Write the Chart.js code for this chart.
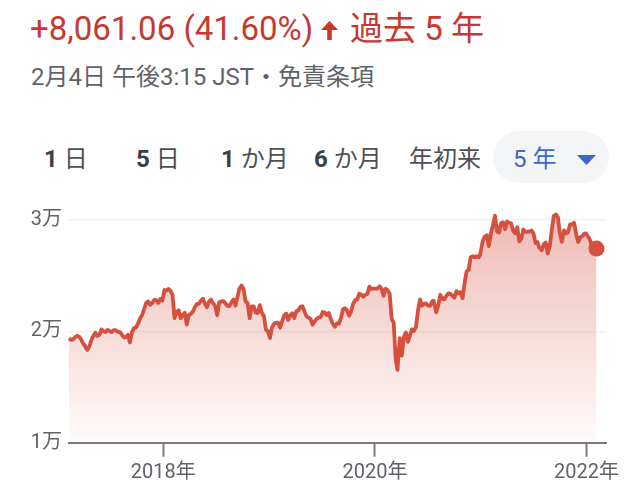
<!DOCTYPE html>
<html><head><meta charset="utf-8">
<script src="https://cdn.jsdelivr.net/npm/chart.js@4.4.1/dist/chart.umd.min.js"></script>
<style>
html,body{margin:0;padding:0;background:#fff;width:639px;height:486px;overflow:hidden;}
body{position:relative;font-family:Roboto,"Noto Sans CJK JP",sans-serif;}
.t{position:absolute;white-space:nowrap;line-height:1;}
.tab{position:absolute;white-space:nowrap;line-height:1;font-size:24px;color:#4d5156;top:147px;}
.tab b{font-weight:700;color:#3c4043;}
#chartWrap{position:absolute;left:0;top:0;width:639px;height:486px;}
</style></head><body>
<div class="t" style="left:30px;top:12px;font-size:33px;color:#c5392f;">+8,061.06 (41.60%)</div>
<svg style="position:absolute;left:321px;top:21px" width="17" height="19"><polygon points="0,9 8.5,0 17,9 10.8,9 10.8,19 6.2,19 6.2,9" fill="#c5392f"/></svg>
<div class="t" style="left:350px;top:12px;font-size:33px;color:#c5392f;">過去 5 年</div>
<div class="t" style="left:31px;top:65px;font-size:24px;color:#5f6368;">2月4日 午後3:15 JST・免責条項</div>
<div style="position:absolute;left:493px;top:131px;width:116px;height:52px;border-radius:26px;background:#f4f5f7"></div>
<div class="tab" style="left:44px"><b>1</b> 日</div>
<div class="tab" style="left:136px"><b>5</b> 日</div>
<div class="tab" style="left:221px"><b>1</b> か月</div>
<div class="tab" style="left:314px"><b>6</b> か月</div>
<div class="tab" style="left:409px">年初来</div>
<div class="tab" style="left:513px;color:#3b68cc">5 年</div>
<svg style="position:absolute;left:577px;top:155px" width="19" height="10"><polygon points="0,0 19,0 9.5,10" fill="#3b68cc"/></svg>
<div id="chartWrap"><canvas id="c" width="639" height="486"></canvas></div>
<script>
const weekDates = [
'2017-02-10','2017-02-17','2017-02-24','2017-03-03','2017-03-10','2017-03-17','2017-03-24','2017-03-31','2017-04-07','2017-04-14','2017-04-21','2017-04-28','2017-05-02','2017-05-12','2017-05-19','2017-05-26','2017-06-02','2017-06-09','2017-06-16','2017-06-23','2017-06-30','2017-07-07','2017-07-14','2017-07-21','2017-07-28','2017-08-04','2017-08-11','2017-08-18','2017-08-25','2017-09-01','2017-09-08','2017-09-15','2017-09-22','2017-09-29','2017-10-06','2017-10-13','2017-10-20','2017-10-27','2017-11-03','2017-11-10','2017-11-17','2017-11-24','2017-12-01','2017-12-08','2017-12-15','2017-12-22','2017-12-29',
'2018-01-05','2018-01-12','2018-01-19','2018-01-26','2018-02-02','2018-02-09','2018-02-16','2018-02-23','2018-03-02','2018-03-09','2018-03-16','2018-03-23','2018-03-30','2018-04-06','2018-04-13','2018-04-20','2018-04-27','2018-05-04','2018-05-11','2018-05-18','2018-05-25','2018-06-01','2018-06-08','2018-06-15','2018-06-22','2018-06-29','2018-07-06','2018-07-13','2018-07-20','2018-07-27','2018-08-03','2018-08-10','2018-08-17','2018-08-24','2018-08-31','2018-09-07','2018-09-14','2018-09-21','2018-09-28','2018-10-05','2018-10-12','2018-10-19','2018-10-26','2018-11-02','2018-11-09','2018-11-16','2018-11-23','2018-11-30','2018-12-07','2018-12-14','2018-12-21','2018-12-28',
'2019-01-04','2019-01-11','2019-01-18','2019-01-25','2019-02-01','2019-02-08','2019-02-15','2019-02-22','2019-03-01','2019-03-08','2019-03-15','2019-03-22','2019-03-29','2019-04-05','2019-04-12','2019-04-19','2019-04-26','2019-05-10','2019-05-17','2019-05-24','2019-05-31','2019-06-07','2019-06-14','2019-06-21','2019-06-28','2019-07-05','2019-07-12','2019-07-19','2019-07-26','2019-08-02','2019-08-09','2019-08-16','2019-08-23','2019-08-30','2019-09-06','2019-09-13','2019-09-20','2019-09-27','2019-10-04','2019-10-11','2019-10-18','2019-10-25','2019-11-01','2019-11-08','2019-11-15','2019-11-22','2019-11-29','2019-12-06','2019-12-13','2019-12-20','2019-12-27',
'2020-01-10','2020-01-17','2020-01-24','2020-01-31','2020-02-07','2020-02-14','2020-02-21','2020-02-28','2020-03-06','2020-03-13','2020-03-19','2020-03-27','2020-04-03','2020-04-10','2020-04-17','2020-04-24','2020-05-01','2020-05-08','2020-05-15','2020-05-22','2020-05-29','2020-06-05','2020-06-12','2020-06-19','2020-06-26','2020-07-03','2020-07-10','2020-07-17','2020-07-22','2020-07-31','2020-08-07','2020-08-14','2020-08-21','2020-08-28','2020-09-04','2020-09-11','2020-09-18','2020-09-25','2020-10-02','2020-10-09','2020-10-16','2020-10-23','2020-10-30','2020-11-06','2020-11-13','2020-11-20','2020-11-27','2020-12-04','2020-12-11','2020-12-18','2020-12-25','2020-12-30',
'2021-01-08','2021-01-15','2021-01-22','2021-01-29','2021-02-05','2021-02-12','2021-02-19','2021-02-26','2021-03-05','2021-03-12','2021-03-19','2021-03-26','2021-04-02','2021-04-09','2021-04-16','2021-04-23','2021-04-30','2021-05-07','2021-05-14','2021-05-21','2021-05-28','2021-06-04','2021-06-11','2021-06-18','2021-06-25','2021-07-02','2021-07-09','2021-07-16','2021-07-21','2021-07-30','2021-08-06','2021-08-13','2021-08-20','2021-08-27','2021-09-03','2021-09-10','2021-09-17','2021-09-24','2021-10-01','2021-10-08','2021-10-15','2021-10-22','2021-10-29','2021-11-05','2021-11-12','2021-11-19','2021-11-26','2021-12-03','2021-12-10','2021-12-17','2021-12-24','2021-12-30',
'2022-01-07','2022-01-14','2022-01-21','2022-01-28','2022-02-04'
];
const closeValues = [
19378,19235,19283,19469,19604,19521,19262,18909,18664,18335,18620,19196,19445,19883,19590,19686,20177,20013,19943,20132,20033,19929,20118,20099,19959,19952,19729,19470,19452,19691,19000,19909,20296,20356,20690,21155,21457,22008,22539,22681,22397,22550,22819,22811,22553,22902,22764,
23714,23653,23808,23631,23274,21200,21720,21892,21181,21469,21676,20617,21454,21567,21778,22162,22467,22472,22758,22930,22450,22171,22694,22851,22516,22304,21450,22597,22697,22712,22525,22298,22270,22601,22865,22307,23094,23869,24120,23784,22694,22532,21184,22243,22250,21680,21646,22351,21679,21374,20166,20015,
19400,20359,20666,20774,20788,20333,20900,21425,21602,21025,21450,21627,21205,21807,21870,22200,22258,21344,21250,21117,20601,20884,21116,21258,21275,21746,21685,21466,21658,21087,20684,20418,20710,20704,21199,21988,22079,21878,21410,21798,22492,22799,22850,23391,23303,23112,23293,23354,24023,23816,23837,
23850,24041,23827,23205,23827,23687,23386,21142,20749,17431,16552,19389,17820,19498,19897,19050,19619,20179,20037,20388,21877,22863,22305,22478,22512,22306,22290,22696,22751,21710,22329,23289,22920,22882,23205,23406,23360,23205,23029,23619,23410,23516,22977,24325,25385,25527,26644,26751,26652,26763,26656,26900,
28139,28519,28631,27663,28779,29520,30400,28966,28864,29717,29792,29176,29854,29768,29683,29020,28812,29357,28084,28317,29149,28941,28948,28964,29066,28783,27940,28003,27548,27283,27820,27977,27013,27641,29128,30381,30500,30249,28771,28048,29068,28804,28893,29611,29610,29745,28752,28029,28437,28546,28782,28791,
28479,28124,27522,27200,27440
];
const yTickValues = [10000, 20000, 30000];
const yTickLabels = ['1万', '2万', '3万'];
const xTickYears = [2018, 2020, 2022];
const xAxisEnd = 2022.19;
const yAxisMin = 10000;
const yAxisMax = 31000;

function toYear(s) {
  const d = new Date(s + 'T00:00:00Z');
  const y = d.getUTCFullYear();
  const a = Date.UTC(y, 0, 1), b = Date.UTC(y + 1, 0, 1);
  return y + (d.getTime() - a) / (b - a);
}
const points = weekDates.map((d, i) => ({ x: toYear(d), y: closeValues[i] }));
const lineColor = '#d5503e';
const fontFam = 'Roboto, "Noto Sans CJK JP", sans-serif';

new Chart(document.getElementById('c').getContext('2d'), {
  type: 'line',
  data: { datasets: [{
    data: points,
    borderColor: lineColor,
    borderWidth: 3.8,
    tension: 0,
    borderJoinStyle: 'round',
    fill: 'start',
    backgroundColor: (c) => {
      const a = c.chart.chartArea;
      if (!a) return 'rgba(213,80,62,0.2)';
      const g = c.chart.ctx.createLinearGradient(0, a.top, 0, a.bottom);
      g.addColorStop(0, 'rgba(213,80,62,0.40)');
      g.addColorStop(1, 'rgba(213,80,62,0.02)');
      return g;
    },
    pointRadius: points.map((p, i) => i === points.length - 1 ? 8 : 0),
    pointBackgroundColor: lineColor,
    pointBorderWidth: 0,
    pointHoverRadius: 0,
    clip: false
  }]},
  options: {
    responsive: false,
    animation: false,
    events: [],
    layout: { padding: { top: 208.9, right: 32.3, left: 0, bottom: 0 } },
    plugins: { legend: { display: false }, tooltip: { enabled: false } },
    scales: {
      x: {
        type: 'linear',
        min: points[0].x,
        max: xAxisEnd,
        afterBuildTicks: (s) => { s.ticks = xTickYears.map(v => ({ value: v })); },
        afterFit: (s) => { s.height = 43.3; },
        grid: { display: true, drawOnChartArea: false, drawTicks: true, tickLength: 14, tickWidth: 2, tickColor: '#7a7a7a' },
        border: { display: true, color: '#7a7a7a', width: 2 },
        ticks: { padding: 4, color: '#5f6368', font: { family: fontFam, size: 20 }, callback: (v) => v + '年', maxRotation: 0, autoSkip: false }
      },
      y: {
        min: yAxisMin,
        max: yAxisMax,
        afterBuildTicks: (s) => { s.ticks = yTickValues.map(v => ({ value: v })); },
        afterFit: (s) => { s.width = 69; },
        grid: { color: (c) => (c.tick && c.tick.value === 10000) ? 'rgba(0,0,0,0)' : '#efefef', lineWidth: 1.5, drawTicks: false },
        border: { display: false },
        ticks: { padding: 7, color: '#5f6368', font: { family: fontFam, size: 20 }, callback: (v) => yTickLabels[yTickValues.indexOf(v)] }
      }
    }
  }
});
</script>
</body></html>
